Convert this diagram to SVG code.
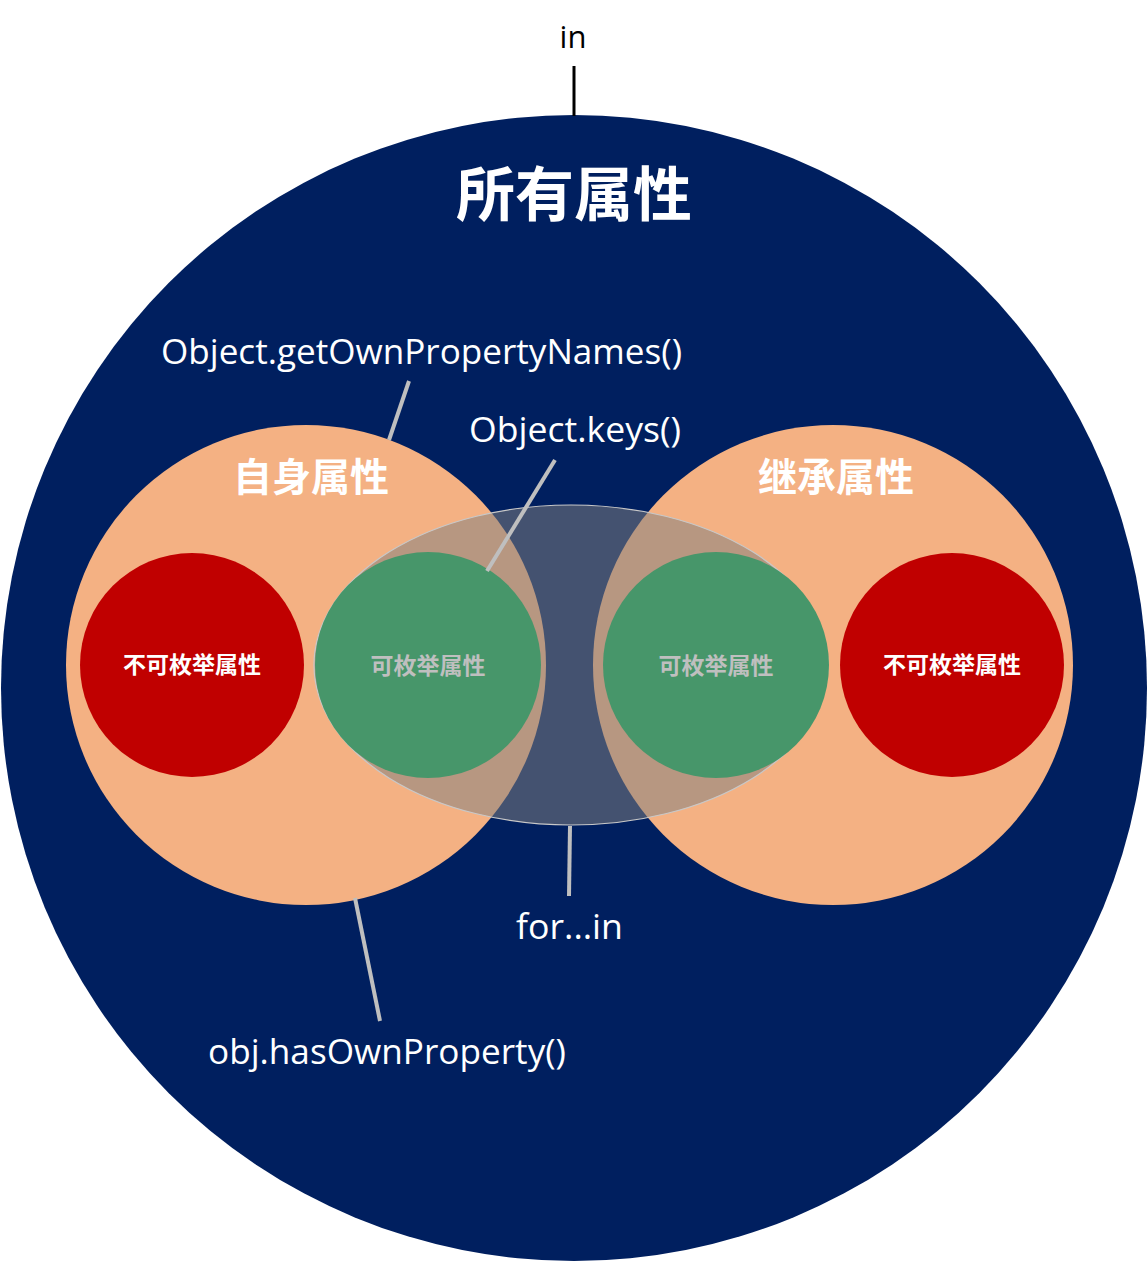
<svg xmlns="http://www.w3.org/2000/svg" width="1148" height="1263" viewBox="0 0 1148 1263">
<style>
.lat{font-family:"Open Sans","Liberation Sans",sans-serif;fill:#fff;font-size:34px}
.cjk{font-family:"Noto Sans CJK SC",sans-serif;font-weight:bold;text-anchor:middle}
.lead{stroke:#BFBFBF;stroke-width:4;fill:none}
.peach{fill:#F4B183}
.red{fill:#C00000}
.green{fill:#47966A}
</style>
<rect width="1148" height="1263" fill="#fff"/>
<g id="all">
<circle cx="574" cy="688" r="573" fill="#001F5F"/>
<text class="cjk" x="574" y="216" font-size="59" fill="#fff">所有属性</text>
</g>
<g id="own">
<circle class="peach" cx="306" cy="665" r="240"/>
<text class="cjk" x="311" y="491" font-size="39" fill="#fff">自身属性</text>
</g>
<g id="inherited">
<circle class="peach" cx="833" cy="665" r="240"/>
<text class="cjk" x="836" y="491" font-size="39" fill="#fff">继承属性</text>
</g>
<g id="forin-area">
<ellipse cx="571" cy="665" rx="257" ry="160" fill="#808080" fill-opacity="0.53" stroke="#C8C8C8" stroke-width="1.2"/>
</g>
<g id="own-nonenum">
<circle class="red" cx="192" cy="665" r="112"/>
<text class="cjk" x="192" y="673" font-size="23" fill="#fff">不可枚举属性</text>
</g>
<g id="own-enum">
<circle class="green" cx="428" cy="665" r="113"/>
<text class="cjk" x="428" y="674" font-size="23" fill="#BFBFBF">可枚举属性</text>
</g>
<g id="inh-enum">
<circle class="green" cx="716" cy="665" r="113"/>
<text class="cjk" x="716" y="674" font-size="23" fill="#BFBFBF">可枚举属性</text>
</g>
<g id="inh-nonenum">
<circle class="red" cx="952" cy="665" r="112"/>
<text class="cjk" x="952" y="673" font-size="23" fill="#fff">不可枚举属性</text>
</g>
<g id="connectors">
<line x1="574" y1="66" x2="574" y2="116" stroke="#000" stroke-width="3"/>
<line class="lead" x1="409" y1="381" x2="389" y2="440"/>
<line class="lead" x1="555" y1="460" x2="487" y2="571"/>
<line class="lead" x1="570" y1="826" x2="569" y2="896"/>
<line class="lead" x1="355" y1="898" x2="380" y2="1021"/>
</g>
<g id="labels">
<text x="573" y="48" font-family="Open Sans, Liberation Sans, sans-serif" font-size="31" fill="#000" text-anchor="middle">in</text>
<text class="lat" x="161" y="364" textLength="521" lengthAdjust="spacingAndGlyphs">Object.getOwnPropertyNames()</text>
<text class="lat" x="469" y="442" textLength="212" lengthAdjust="spacingAndGlyphs">Object.keys()</text>
<text class="lat" x="516" y="939" textLength="107" lengthAdjust="spacingAndGlyphs">for...in</text>
<text class="lat" x="208" y="1064" textLength="358" lengthAdjust="spacingAndGlyphs">obj.hasOwnProperty()</text>
</g>
</svg>
